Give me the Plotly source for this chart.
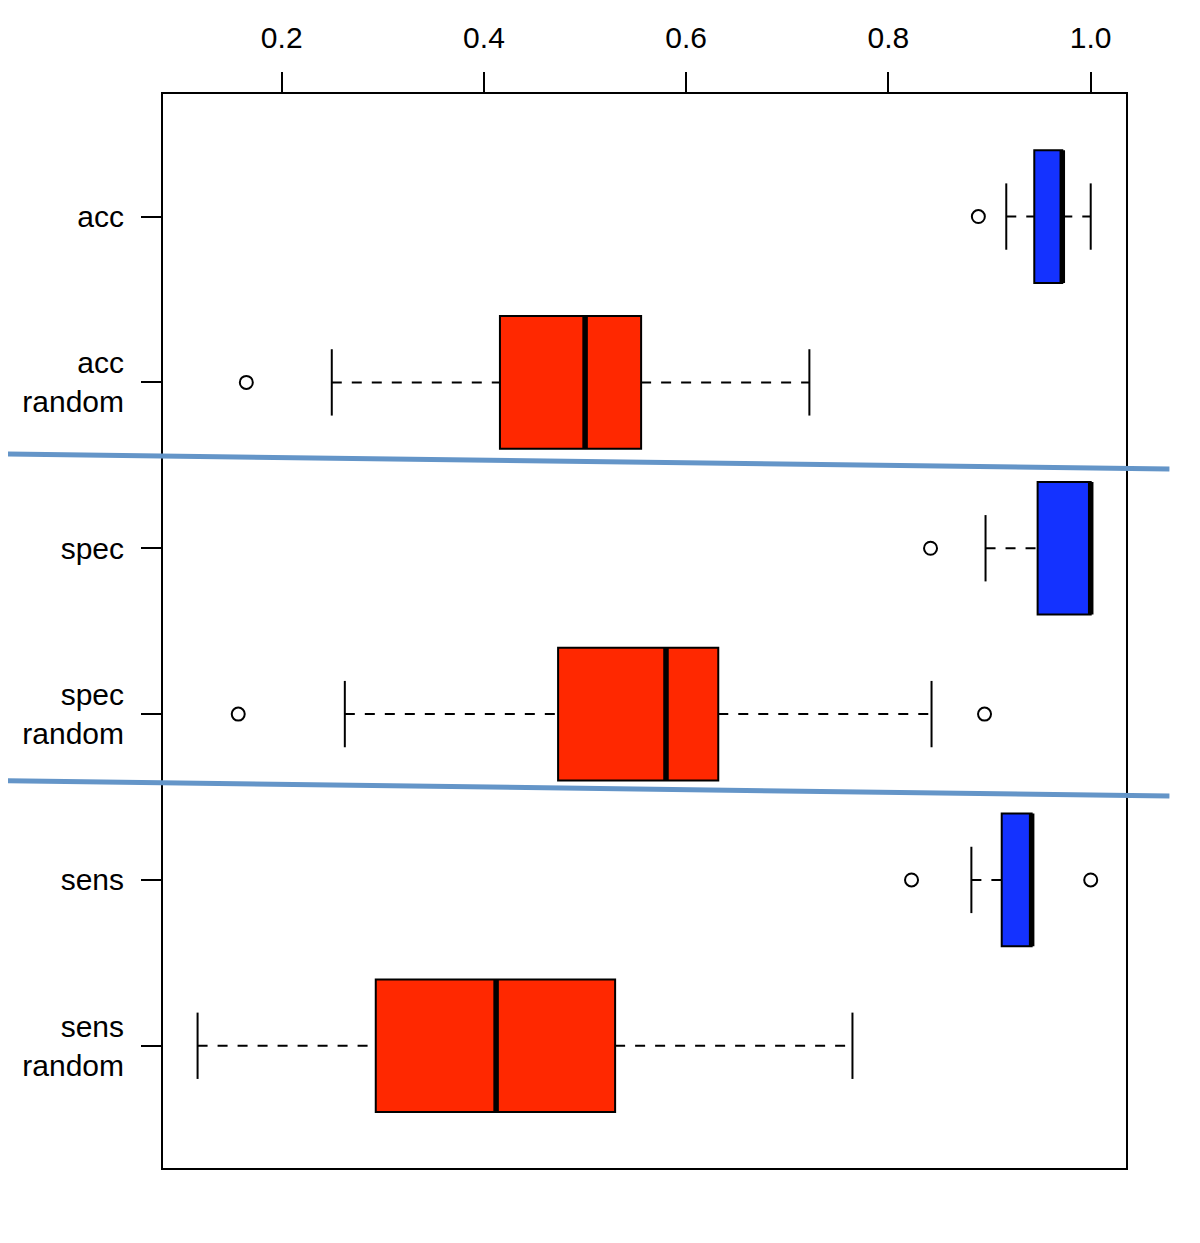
import plotly.graph_objects as go

# ---- data ----
categories = ["acc", "acc<br>random", "spec", "spec<br>random", "sens", "sens<br>random"]
lower_whisker = [0.9165, 0.2495, 0.8960, 0.2624, 0.8820, 0.1168]
q1 = [0.9442, 0.4158, 0.9475, 0.4733, 0.9120, 0.2930]
median = [0.9719, 0.5000, 1.0000, 0.5800, 0.9416, 0.4120]
q3 = [0.9719, 0.5554, 1.0000, 0.6317, 0.9416, 0.5297]
upper_whisker = [1.0000, 0.7218, 1.0000, 0.8426, 0.9416, 0.7644]
outliers = [[0.8889], [0.1650], [0.8416], [0.1570, 0.8950], [0.8228, 1.0000], []]
groups = ["real", "random", "real", "random", "real", "random"]
x_ticks = [0.2, 0.4, 0.6, 0.8, 1.0]

# hand-drawn separator lines (paper coordinates)
separators = [
    ((-0.1692, 0.6648), (1.0451, 0.6508)),
    ((-0.1692, 0.3606), (1.0451, 0.3464)),
]

colors = {"real": "#1432FF", "random": "#FF2800"}
BOX_HALF = 0.4
CAP_HALF = 0.2
FONT = "Liberation Sans, Arial, Helvetica, sans-serif"

fig = go.Figure()
positions = list(range(len(categories)))

for i in positions:
    # box body
    fig.add_trace(go.Box(
        y=[i], q1=[q1[i]], median=[median[i]], q3=[q3[i]],
        lowerfence=[q1[i]], upperfence=[q3[i]],
        orientation="h", width=2 * BOX_HALF, whiskerwidth=0,
        fillcolor=colors[groups[i]], line=dict(color="black", width=2),
        boxpoints=False, showlegend=False, hoverinfo="skip",
    ))
    # dashed whiskers
    wx, wy = [], []
    if lower_whisker[i] < q1[i]:
        wx += [lower_whisker[i], q1[i], None]
        wy += [i, i, None]
    if upper_whisker[i] > q3[i]:
        wx += [q3[i], upper_whisker[i], None]
        wy += [i, i, None]
    if wx:
        fig.add_trace(go.Scatter(
            x=wx, y=wy, mode="lines",
            line=dict(color="black", width=2, dash="10px,10px"),
            showlegend=False, hoverinfo="skip",
        ))
    # caps
    cx, cy = [], []
    if lower_whisker[i] < q1[i]:
        cx += [lower_whisker[i], lower_whisker[i], None]
        cy += [i - CAP_HALF, i + CAP_HALF, None]
    if upper_whisker[i] > q3[i]:
        cx += [upper_whisker[i], upper_whisker[i], None]
        cy += [i - CAP_HALF, i + CAP_HALF, None]
    if cx:
        fig.add_trace(go.Scatter(
            x=cx, y=cy, mode="lines", line=dict(color="black", width=2),
            showlegend=False, hoverinfo="skip",
        ))
    # thick median
    fig.add_trace(go.Scatter(
        x=[median[i], median[i]], y=[i - BOX_HALF, i + BOX_HALF],
        mode="lines", line=dict(color="black", width=5.5),
        showlegend=False, hoverinfo="skip",
    ))
    # outliers
    if outliers[i]:
        fig.add_trace(go.Scatter(
            x=outliers[i], y=[i] * len(outliers[i]), mode="markers",
            marker=dict(symbol="circle-open", size=13, color="black",
                        line=dict(width=2, color="black")),
            showlegend=False, hoverinfo="skip",
        ))

for (x0, y0), (x1, y1) in separators:
    fig.add_shape(type="line", xref="paper", yref="paper",
                  x0=x0, y0=y0, x1=x1, y1=y1,
                  line=dict(color="#6495C8", width=5), layer="above")

fig.update_layout(
    width=1200, height=1243,
    margin=dict(l=155, r=82, t=86, b=83),
    paper_bgcolor="white", plot_bgcolor="white",
    font=dict(family=FONT, size=30, color="black"),
    showlegend=False,
    xaxis=dict(
        side="top", range=[0.0826, 1.0349],
        tickvals=x_ticks, ticktext=[f"{v:.1f}" for v in x_ticks],
        ticks="outside", ticklen=20, tickwidth=2, tickcolor="black",
        ticklabelstandoff=12,
        showline=True, linecolor="black", linewidth=2, mirror=True,
        showgrid=False, zeroline=False,
    ),
    yaxis=dict(
        range=[5.737, -0.739],
        tickvals=positions, ticktext=categories,
        ticks="outside", ticklen=20, tickwidth=2, tickcolor="black",
        ticklabelstandoff=11,
        showline=True, linecolor="black", linewidth=2, mirror=True,
        showgrid=False, zeroline=False,
    ),
)

fig.write_html("out.html")
